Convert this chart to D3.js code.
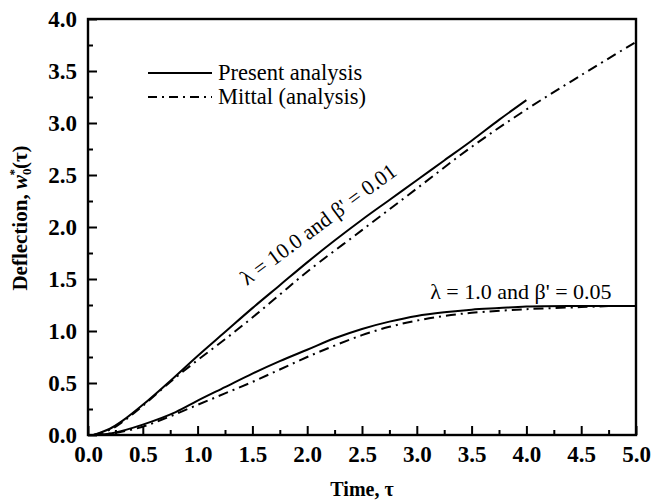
<!DOCTYPE html>
<html>
<head>
<meta charset="utf-8">
<script src="https://cdn.jsdelivr.net/npm/d3@7"></script>
<style>
  html, body { margin: 0; padding: 0; background: #fff; }
  svg { display: block; font-family: "Liberation Serif", "Times New Roman", serif; }
</style>
</head>
<body>
<svg id="chart" width="653" height="500"></svg>
<script>
// Dimensionless time τ and deflection w0*(τ) for the two parameter sets
const presentHighLambda = [
  [0.05, 0.00], [0.2, 0.06], [0.32, 0.14], [0.5, 0.29], [0.75, 0.52],
  [1.0, 0.76], [1.25, 0.99], [1.5, 1.22], [1.75, 1.44], [2.0, 1.66],
  [2.25, 1.87], [2.5, 2.07], [2.75, 2.26], [3.0, 2.45], [3.25, 2.64],
  [3.5, 2.83], [3.75, 3.03], [4.0, 3.22]
];
const mittalHighLambda = [
  [0.05, 0.00], [0.2, 0.05], [0.32, 0.13], [0.5, 0.28], [0.75, 0.51],
  [1.0, 0.72], [1.25, 0.92], [1.5, 1.13], [1.75, 1.35], [2.0, 1.57],
  [2.5, 1.97], [3.0, 2.37], [3.5, 2.77], [4.0, 3.13], [4.5, 3.46],
  [5.0, 3.78]
];
const presentLowLambda = [
  [0.05, 0.00], [0.23, 0.02], [0.5, 0.10], [0.8, 0.22], [1.0, 0.33],
  [1.25, 0.46], [1.5, 0.59], [1.75, 0.71], [2.0, 0.82], [2.25, 0.93],
  [2.5, 1.02], [2.75, 1.09], [3.0, 1.145], [3.25, 1.18], [3.5, 1.205],
  [3.75, 1.22], [4.0, 1.235], [4.5, 1.24], [5.0, 1.24]
];
const mittalLowLambda = [
  [0.05, 0.00], [0.25, 0.02], [0.5, 0.08], [0.75, 0.18], [1.0, 0.29],
  [1.25, 0.40], [1.5, 0.51], [1.75, 0.63], [2.0, 0.75], [2.25, 0.86],
  [2.5, 0.96], [2.75, 1.04], [3.0, 1.10], [3.25, 1.145], [3.5, 1.175],
  [4.0, 1.21], [4.5, 1.23], [4.75, 1.24]
];

const xTickValues = [0, 0.5, 1, 1.5, 2, 2.5, 3, 3.5, 4, 4.5, 5];
const yTickValues = [0, 0.5, 1, 1.5, 2, 2.5, 3, 3.5, 4];
const xMinorTicks = [0.25, 0.75, 1.25, 1.75, 2.25, 2.75, 3.25, 3.75, 4.25, 4.75];
const yMinorTicks = [0.25, 0.75, 1.25, 1.75, 2.25, 2.75, 3.25, 3.75];

const legendLabels = ["Present analysis", "Mittal (analysis)"];
const curveLabels = ["λ = 10.0 and β' = 0.01", "λ = 1.0 and β' = 0.05"];

const svg = d3.select("#chart");
const plotLeft = 88, plotRight = 636, plotTop = 19, plotBottom = 435;

const x = d3.scaleLinear().domain([0, 5]).range([plotLeft, plotRight]);
const y = d3.scaleLinear().domain([0, 4]).range([plotBottom, plotTop]);

const fmt = d3.format(".1f");
const DASHDOT = "10,5,2,5";

// Frame
svg.append("rect")
  .attr("x", plotLeft).attr("y", plotTop)
  .attr("width", plotRight - plotLeft).attr("height", plotBottom - plotTop)
  .attr("fill", "none").attr("stroke", "#000").attr("stroke-width", 2.4);

// Bottom and left axes: labelled major ticks, minor ticks between, all pointing inward
const xAxis = svg.append("g").attr("transform", `translate(0,${plotBottom})`)
  .call(d3.axisBottom(x).tickValues(xTickValues).tickFormat(fmt)
    .tickSizeInner(-9).tickSizeOuter(0).tickPadding(27));
const xMinor = svg.append("g").attr("transform", `translate(0,${plotBottom})`)
  .call(d3.axisBottom(x).tickValues(xMinorTicks).tickFormat("")
    .tickSizeInner(-5).tickSizeOuter(0));

const yAxis = svg.append("g").attr("transform", `translate(${plotLeft},0)`)
  .call(d3.axisLeft(y).tickValues(yTickValues).tickFormat(fmt)
    .tickSizeInner(-9).tickSizeOuter(0).tickPadding(11));
const yMinor = svg.append("g").attr("transform", `translate(${plotLeft},0)`)
  .call(d3.axisLeft(y).tickValues(yMinorTicks).tickFormat("")
    .tickSizeInner(-5).tickSizeOuter(0));

[xAxis, xMinor, yAxis, yMinor].forEach(g => {
  g.select(".domain").remove();
  g.selectAll(".tick line").attr("stroke", "#000").attr("stroke-width", 2);
  g.selectAll(".tick text")
    .attr("fill", "#000")
    .style("font-family", '"Liberation Serif", "Times New Roman", serif')
    .style("font-size", "23px")
    .style("font-weight", "bold");
});
xAxis.selectAll(".tick text").attr("dy", "0");
yAxis.selectAll(".tick text").attr("dy", "0.34em");

// Axis titles
svg.append("text")
  .attr("x", (plotLeft + plotRight) / 2).attr("y", 496)
  .attr("text-anchor", "middle")
  .style("font-size", "20px").style("font-weight", "bold")
  .text("Time, τ");

const yTitle = svg.append("text")
  .attr("transform", `translate(27,${(plotTop + plotBottom) / 2 - 9}) rotate(-90)`)
  .attr("text-anchor", "middle")
  .style("font-size", "21px").style("font-weight", "bold");
yTitle.append("tspan").text("Deflection, ");
yTitle.append("tspan").style("font-style", "italic").text("w");
yTitle.append("tspan").attr("dy", "4").style("font-size", "13px").text("0");
yTitle.append("tspan").attr("dx", "-7").attr("dy", "-13").style("font-size", "13px").text("*");
yTitle.append("tspan").attr("dy", "9").text("(τ)");

// Curves
const line = d3.line()
  .x(d => x(d[0])).y(d => y(d[1]))
  .curve(d3.curveCatmullRom.alpha(0.5));

const series = [
  { data: presentHighLambda, dash: null },
  { data: mittalHighLambda, dash: DASHDOT },
  { data: presentLowLambda, dash: null },
  { data: mittalLowLambda, dash: DASHDOT }
];

svg.append("g").selectAll("path")
  .data(series)
  .join("path")
  .attr("d", d => line(d.data))
  .attr("fill", "none")
  .attr("stroke", "#000")
  .attr("stroke-width", 2)
  .attr("stroke-dasharray", d => d.dash);

// Legend
const legend = svg.append("g");
const legendRows = [
  { label: legendLabels[0], dash: null, yPos: 73 },
  { label: legendLabels[1], dash: "9,5,2,5", yPos: 97 }
];
legendRows.forEach(r => {
  legend.append("line")
    .attr("x1", 148).attr("x2", 212)
    .attr("y1", r.yPos).attr("y2", r.yPos)
    .attr("stroke", "#000").attr("stroke-width", 2)
    .attr("stroke-dasharray", r.dash);
  legend.append("text")
    .attr("x", 218).attr("y", r.yPos).attr("dy", "0.3em")
    .style("font-size", "22.5px")
    .text(r.label);
});

// Curve annotations
svg.append("text")
  .attr("transform", `translate(${x(2.14)},${y(1.97)}) rotate(-36.5)`)
  .attr("text-anchor", "middle")
  .style("font-size", "21.5px")
  .text(curveLabels[0]);

svg.append("text")
  .attr("x", x(3.95)).attr("y", y(1.31))
  .attr("text-anchor", "middle")
  .style("font-size", "22px")
  .text(curveLabels[1]);
</script>
</body>
</html>
